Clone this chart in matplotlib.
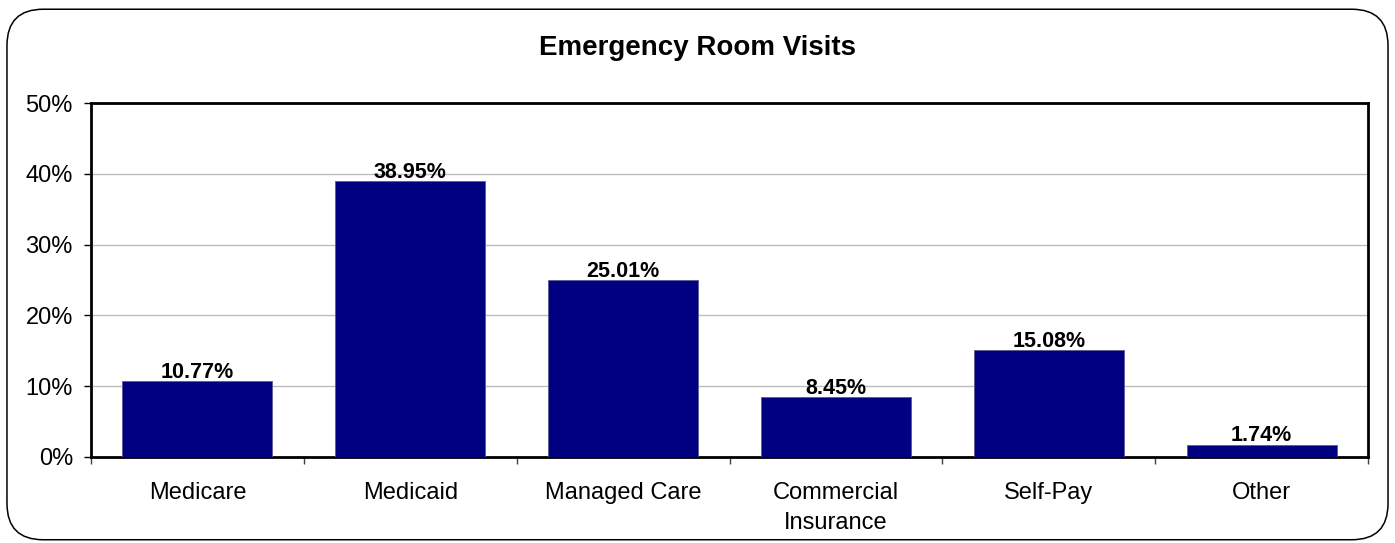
import matplotlib.pyplot as plt
from matplotlib.patches import FancyBboxPatch
from matplotlib.ticker import FixedLocator, PercentFormatter

plt.rcParams['font.family'] = ['Liberation Sans', 'DejaVu Sans']

categories = ["Medicare", "Medicaid", "Managed Care", "Commercial\nInsurance", "Self-Pay", "Other"]
values = [10.77, 38.95, 25.01, 8.45, 15.08, 1.74]
value_labels = ["10.77%", "38.95%", "25.01%", "8.45%", "15.08%", "1.74%"]

fig = plt.figure(figsize=(13.95, 5.43), dpi=100)

# rounded chart border
frame = FancyBboxPatch((0.005, 0.006), 0.99, 0.977, boxstyle="round,pad=0,rounding_size=0.026",
                       transform=fig.transFigure, facecolor='none', edgecolor='black',
                       linewidth=1.1, mutation_aspect=1395 / 543, zorder=10)
fig.patches.append(frame)

ax = fig.add_axes([0.0652, 0.1584, 0.9155, 0.6519])
x = list(range(len(categories)))
ax.bar(x, values, width=0.705, color='#000080', edgecolor='#5a5a9a', linewidth=0.6, zorder=3)

for xi, v, lab in zip(x, values, value_labels):
    ax.text(xi, v - 0.25, lab, ha='center', va='bottom', fontsize=15.5, fontweight='bold', zorder=4)

ax.set_xlim(-0.5, len(categories) - 0.5)
ax.set_ylim(0, 50)
ax.set_yticks([0, 10, 20, 30, 40, 50])
ax.yaxis.set_major_formatter(PercentFormatter(decimals=0))
ax.grid(axis='y', color='#bdbdbd', linewidth=1, zorder=0)

ax.set_xticks(x)
ax.set_xticklabels(categories, fontsize=17, linespacing=1.45)
ax.xaxis.set_minor_locator(FixedLocator([i - 0.5 for i in range(len(categories) + 1)]))
ax.tick_params(axis='x', which='major', length=0, pad=18)
ax.tick_params(axis='x', which='minor', length=5, width=1, color='#404040', direction='out')
ax.tick_params(axis='y', length=5, width=1, direction='out', pad=8, labelsize=17)

for s in ax.spines.values():
    s.set_linewidth(2)
    s.set_color('black')

fig.text(0.5, 0.912, "Emergency Room Visits", ha='center', va='center', fontsize=20, fontweight='bold')

fig.savefig("out.png", dpi=100)
